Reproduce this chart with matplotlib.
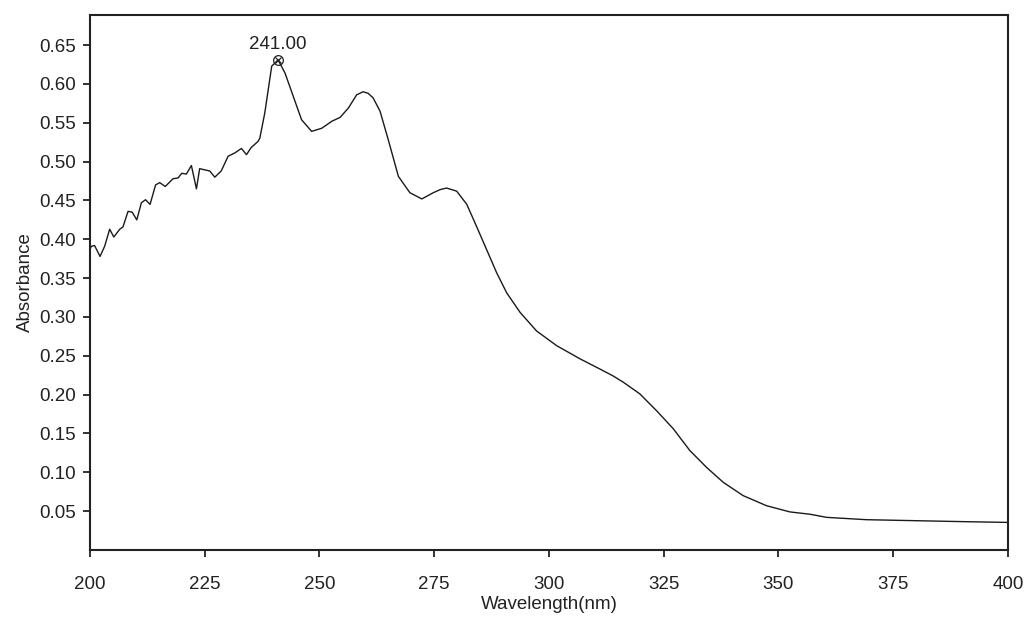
import matplotlib
matplotlib.use("Agg")
import matplotlib.pyplot as plt

plt.rcParams['font.family'] = ['Liberation Sans', 'DejaVu Sans']

# UV-Vis absorbance spectrum
wavelength = [200.0, 200.3, 201.0, 202.2, 203.2, 204.3, 205.2, 206.5, 207.2, 208.3, 209.2,
              210.2, 211.2, 212.1, 213.1, 214.3, 215.2, 216.4, 218.1, 219.2, 220.0,
              221.0, 222.1, 223.2, 223.9, 224.6, 226.1, 227.2, 228.6, 230.1, 231.5,
              233.0, 234.1, 235.1, 236.6, 237.0, 238.1, 239.6, 241.0, 242.5, 244.3,
              246.1, 248.3, 250.5, 252.7, 254.5, 256.3, 258.1, 259.5, 260.6, 261.7, 263.2,
              265.0, 267.2, 269.7, 272.3, 274.8, 276.3, 277.7, 279.9, 282.1, 284.2, 286.4,
              288.6, 290.8, 293.7, 297.3, 301.7, 306.8, 311.1, 314.0, 316.2, 319.8,
              323.5, 327.1, 330.7, 334.4, 338.0, 342.3, 347.4, 352.5, 356.9, 360.5,
              369.2, 380.0, 391.0, 400.0]
absorbance = [0.387, 0.391, 0.392, 0.378, 0.391, 0.413, 0.403, 0.413, 0.416, 0.436, 0.435,
              0.425, 0.447, 0.451, 0.445, 0.470, 0.473, 0.468, 0.478, 0.479, 0.485,
              0.484, 0.495, 0.465, 0.491, 0.490, 0.488, 0.480, 0.488, 0.507, 0.511,
              0.517, 0.509, 0.518, 0.526, 0.530, 0.563, 0.623, 0.631, 0.614, 0.584,
              0.554, 0.539, 0.543, 0.552, 0.557, 0.569, 0.586, 0.590, 0.588, 0.582, 0.565,
              0.528, 0.481, 0.460, 0.452, 0.460, 0.464, 0.466, 0.462, 0.445, 0.417, 0.387,
              0.357, 0.331, 0.306, 0.282, 0.263, 0.246, 0.233, 0.224, 0.216, 0.201,
              0.179, 0.156, 0.128, 0.106, 0.087, 0.070, 0.057, 0.049, 0.046, 0.042,
              0.039, 0.0377, 0.0364, 0.0355]

peak_wl = 241.00
peak_abs = 0.631

x_ticks = [200, 225, 250, 275, 300, 325, 350, 375, 400]
y_ticks = [0.05, 0.10, 0.15, 0.20, 0.25, 0.30, 0.35, 0.40, 0.45, 0.50, 0.55, 0.60, 0.65]

fig = plt.figure(figsize=(10.28, 6.19), dpi=100)
ax = fig.add_axes([0.0875, 0.1115, 0.893, 0.8645])

ax.plot(wavelength, absorbance, color='#1a1a1a', lw=1.0, solid_joinstyle='round')

# peak marker and label
ax.plot([peak_wl], [peak_abs], marker='o', ms=7, mfc='none', mec='#222222', mew=0.9)
ax.plot([peak_wl], [peak_abs], marker='x', ms=5, color='#222222', mew=0.9)
ax.annotate(f"{peak_wl:.2f}", (peak_wl, peak_abs), xytext=(0, 5),
            textcoords='offset points', ha='center', va='bottom', fontsize=13.5,
            color='#222222')

ax.set_xlim(200, 400)
ax.set_ylim(0, 0.689)
ax.set_xticks(x_ticks)
ax.set_xticklabels([str(t) for t in x_ticks])
ax.set_yticks(y_ticks)
ax.set_yticklabels([f"{t:.2f}" for t in y_ticks])

ax.tick_params(axis='both', direction='out', length=5, width=1.3,
               labelsize=13.5, colors='#222222', pad=5)
ax.tick_params(axis='x', pad=14)
for s in ax.spines.values():
    s.set_linewidth(1.5)
    s.set_color('#222222')

ax.set_xlabel('Wavelength(nm)', fontsize=13.5, color='#222222', labelpad=2)
ax.set_ylabel('Absorbance', fontsize=13.5, color='#222222', labelpad=4)

fig.savefig('out.png', dpi=100, facecolor='white')
